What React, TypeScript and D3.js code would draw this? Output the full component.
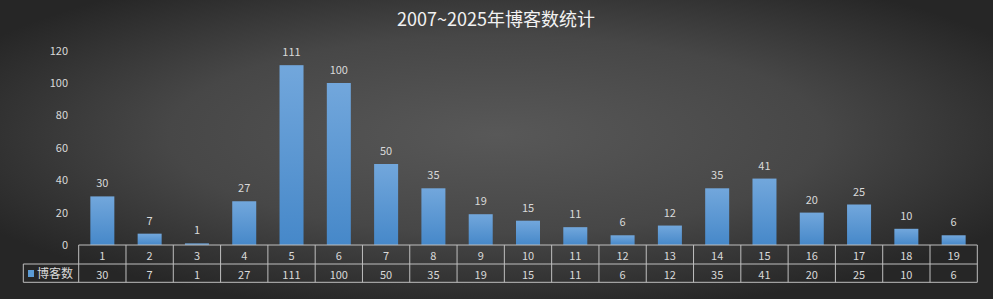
import React from "react";
import * as d3 from "d3";

const categories = ["1","2","3","4","5","6","7","8","9","10","11","12","13","14","15","16","17","18","19"];
const values = [30,7,1,27,111,100,50,35,19,15,11,6,12,35,41,20,25,10,6];
const yTicks = [0,20,40,60,80,100,120];
const seriesName = "博客数";
const title = "2007~2025年博客数统计";

const W = 993, H = 299;
const FONT = "'Noto Sans CJK SC', 'Microsoft YaHei', sans-serif";

export default function App() {
  const x = d3.scaleBand<string>().domain(categories).range([78.7, 977.3]).paddingInner(0).paddingOuter(0);
  const y = d3.scaleLinear().domain([0, 120]).range([245, 50.6]);
  const bw = 24;
  const rowTop = 245, rowMid = 264, rowBot = 282.3;
  return (
    <svg width={W} height={H} style={{ position: "absolute", left: 0, top: 0 }}>
      <defs>
        <radialGradient id="bg" cx="50%" cy="45%" r="60%" gradientUnits="objectBoundingBox" fx="50%" fy="45%">
          <stop offset="0%" stopColor="#585858" />
          <stop offset="55%" stopColor="#474747" />
          <stop offset="100%" stopColor="#262626" />
        </radialGradient>
        <linearGradient id="bar" x1="0" y1="0" x2="0" y2="1">
          <stop offset="0%" stopColor="#72a7dc" />
          <stop offset="100%" stopColor="#4688c9" />
        </linearGradient>
      </defs>
      <rect x={0} y={0} width={W} height={H} fill="url(#bg)" />
      <text x={496} y={26} textAnchor="middle" fill="#f2f2f2" fontSize={18} fontFamily={FONT}>{title}</text>
      {yTicks.map((t) => (
        <text key={t} x={68} y={y(t) + 4} textAnchor="end" fill="#d9d9d9" fontSize={11} fontFamily={FONT}>{t}</text>
      ))}
      {values.map((v, i) => {
        const cx = (x(categories[i]) as number) + x.bandwidth() / 2;
        return (
          <g key={i}>
            <rect x={cx - bw / 2} y={y(v)} width={bw} height={y(0) - y(v)} fill="url(#bar)" />
            <text x={cx} y={y(v) - 9} textAnchor="middle" fill="#d9d9d9" fontSize={11} fontFamily={FONT}>{v}</text>
          </g>
        );
      })}
      {/* table */}
      <g stroke="#bfbfbf" strokeWidth={1} fill="none">
        <line x1={78.7} x2={977.3} y1={rowTop} y2={rowTop} />
        <line x1={23.3} x2={977.3} y1={rowMid} y2={rowMid} />
        <line x1={23.3} x2={977.3} y1={rowBot} y2={rowBot} />
        <line x1={23.3} x2={23.3} y1={rowMid} y2={rowBot} />
        {categories.map((c) => (
          <line key={c} x1={x(c) as number} x2={x(c) as number} y1={rowTop} y2={rowBot} />
        ))}
        <line x1={977.3} x2={977.3} y1={rowTop} y2={rowBot} />
      </g>
      {categories.map((c, i) => {
        const cx = (x(c) as number) + x.bandwidth() / 2;
        return (
          <g key={"t" + c}>
            <text x={cx} y={260} textAnchor="middle" fill="#d9d9d9" fontSize={11} fontFamily={FONT}>{c}</text>
            <text x={cx} y={279} textAnchor="middle" fill="#d9d9d9" fontSize={11} fontFamily={FONT}>{values[i]}</text>
          </g>
        );
      })}
      <rect x={28} y={270} width={6} height={7} fill="#5b9bd5" />
      <text x={37} y={278} fill="#d9d9d9" fontSize={12} fontFamily={FONT}>{seriesName}</text>
    </svg>
  );
}
